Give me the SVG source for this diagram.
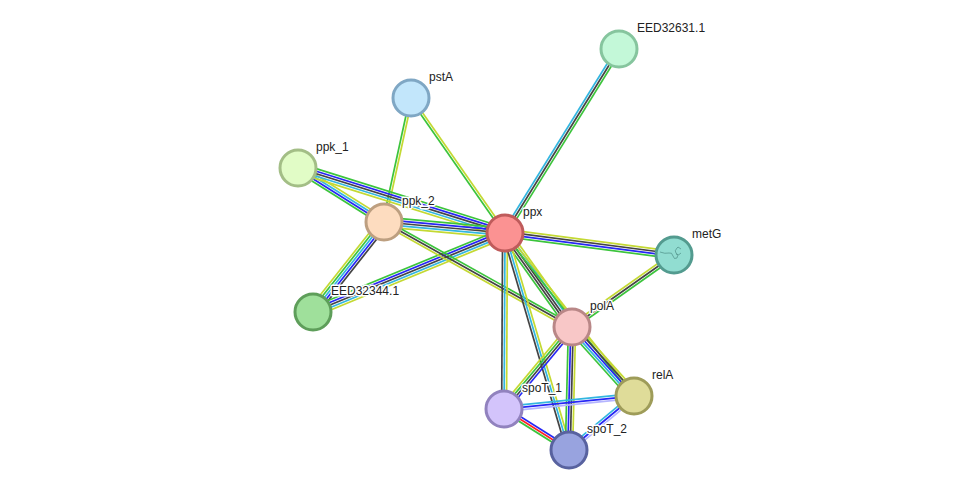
<svg xmlns="http://www.w3.org/2000/svg" width="976" height="495" viewBox="0 0 976 495">
<style>
line{stroke-width:1.55;fill:none}
.G{stroke:#3cc43c}.Y{stroke:#c4d933}.K{stroke:#444}.B{stroke:#2626f5}.C{stroke:#33b6e0}.R{stroke:#f22}.L{stroke:#b4b4ff}
.n{stroke-width:3}
text{font-family:"Liberation Sans",Arial,sans-serif;font-size:12px;fill:#222;stroke:#fff;stroke-width:3;stroke-linejoin:round;paint-order:stroke}
</style>
<rect width="976" height="495" fill="#fff"/>
<g id="connectors">
<g transform="translate(505 233) rotate(-58.2) scale(1 1.1)"><line class="C" x2="216.5" y1="-2.2" y2="-2.2"/><line class="K" x2="216.5"/><line class="G" x2="216.5" y1="2.2" y2="2.2"/></g>
<g transform="translate(505 233) rotate(-124.9) scale(1 1.1)"><line class="G" x2="164.5" y1="-1.1" y2="-1.1"/><line class="Y" x2="164.5" y1="1.1" y2="1.1"/></g>
<g transform="translate(384 222) rotate(-77.7) scale(1 1.1)"><line class="G" x2="126.9" y1="-1.1" y2="-1.1"/><line class="Y" x2="126.9" y1="1.1" y2="1.1"/></g>
<g transform="translate(298 168) rotate(32.1) scale(1 1.1)"><line class="Y" x2="101.5" y1="-3.3" y2="-3.3"/><line class="C" x2="101.5" y1="-1.1" y2="-1.1"/><line class="B" x2="101.5" y1="1.1" y2="1.1"/><line class="G" x2="101.5" y1="3.3" y2="3.3"/></g>
<g transform="translate(298 168) rotate(17.4) scale(1 1.1)"><line class="G" x2="217" y1="-4.4" y2="-4.4"/><line class="B" x2="217" y1="-2.2" y2="-2.2"/><line class="K" x2="217"/><line class="C" x2="217" y1="2.2" y2="2.2"/><line class="Y" x2="217" y1="4.4" y2="4.4"/></g>
<g transform="translate(384 222) rotate(5.2) scale(1 1.1)"><line class="G" x2="121.5" y1="-4.4" y2="-4.4"/><line class="B" x2="121.5" y1="-2.2" y2="-2.2"/><line class="K" x2="121.5"/><line class="C" x2="121.5" y1="2.2" y2="2.2"/><line class="Y" x2="121.5" y1="4.4" y2="4.4"/></g>
<g transform="translate(313 312) rotate(-51.7) scale(1 1.1)"><line class="Y" x2="114.6" y1="-4.4" y2="-4.4"/><line class="G" x2="114.6" y1="-2.2" y2="-2.2"/><line class="C" x2="114.6"/><line class="B" x2="114.6" y1="2.2" y2="2.2"/><line class="K" x2="114.6" y1="4.4" y2="4.4"/></g>
<g transform="translate(313 312) rotate(-22.4) scale(1 1.1)"><line class="G" x2="207.6" y1="-4.4" y2="-4.4"/><line class="B" x2="207.6" y1="-2.2" y2="-2.2"/><line class="K" x2="207.6"/><line class="C" x2="207.6" y1="2.2" y2="2.2"/><line class="Y" x2="207.6" y1="4.4" y2="4.4"/></g>
<g transform="translate(384 222) rotate(29.2) scale(1 1.1)"><line class="G" x2="215.3" y1="-2.2" y2="-2.2"/><line class="K" x2="215.3"/><line class="Y" x2="215.3" y1="2.2" y2="2.2"/></g>
<g transform="translate(505 233) rotate(7.4) scale(1 1.1)"><line class="Y" x2="170.4" y1="-3.3" y2="-3.3"/><line class="K" x2="170.4" y1="-1.1" y2="-1.1"/><line class="B" x2="170.4" y1="1.1" y2="1.1"/><line class="G" x2="170.4" y1="3.3" y2="3.3"/></g>
<g transform="translate(572 327) rotate(-35.2) scale(1 1.1)"><line class="Y" x2="124.9" y1="-2.2" y2="-2.2"/><line class="K" x2="124.9"/><line class="G" x2="124.9" y1="2.2" y2="2.2"/></g>
<g transform="translate(505 233) rotate(54.5) scale(1 1.1)"><line class="Y" x2="115.4" y1="-4.4" y2="-4.4"/><line class="C" x2="115.4" y1="-2.2" y2="-2.2"/><line class="K" x2="115.4"/><line class="K" x2="115.4" y1="2.2" y2="2.2"/><line class="G" x2="115.4" y1="4.4" y2="4.4"/></g>
<g transform="translate(505 233) rotate(90.3) scale(1 1.1)"><line class="Y" x2="176" y1="-2.2" y2="-2.2"/><line class="C" x2="176"/><line class="K" x2="176" y1="2.2" y2="2.2"/></g>
<g transform="translate(505 233) rotate(73.6) scale(1 1.1)"><line class="Y" x2="226.2" y1="-2.2" y2="-2.2"/><line class="C" x2="226.2"/><line class="K" x2="226.2" y1="2.2" y2="2.2"/></g>
<g transform="translate(505 233) rotate(51.6) scale(1 1.1)"><line class="Y" x2="207.9" y1="-1.1" y2="-1.1"/><line class="G" x2="207.9" y1="1.1" y2="1.1"/></g>
<g transform="translate(572 327) rotate(129.7) scale(1 1.1)"><line class="B" x2="106.5" y1="-3.3" y2="-3.3"/><line class="K" x2="106.5" y1="-1.1" y2="-1.1"/><line class="G" x2="106.5" y1="1.1" y2="1.1"/><line class="Y" x2="106.5" y1="3.3" y2="3.3"/></g>
<g transform="translate(572 327) rotate(91.4) scale(1 1.1)"><line class="Y" x2="123" y1="-3.3" y2="-3.3"/><line class="K" x2="123" y1="-1.1" y2="-1.1"/><line class="B" x2="123" y1="1.1" y2="1.1"/><line class="G" x2="123" y1="3.3" y2="3.3"/></g>
<g transform="translate(572 327) rotate(48.1) scale(1 1.1)"><line class="Y" x2="92.8" y1="-4.4" y2="-4.4"/><line class="K" x2="92.8" y1="-2.2" y2="-2.2"/><line class="B" x2="92.8"/><line class="C" x2="92.8" y1="2.2" y2="2.2"/><line class="G" x2="92.8" y1="4.4" y2="4.4"/></g>
<g transform="translate(504 409) rotate(-5.7) scale(1 1.1)"><line class="C" x2="130.6" y1="-2.2" y2="-2.2"/><line class="B" x2="130.6"/><line class="L" x2="130.6" y1="2.2" y2="2.2"/></g>
<g transform="translate(504 409) rotate(32.2) scale(1 1.1)"><line class="B" x2="76.9" y1="-2.2" y2="-2.2"/><line class="R" x2="76.9"/><line class="G" x2="76.9" y1="2.2" y2="2.2"/></g>
<g transform="translate(569 450) rotate(-39.7) scale(1 1.1)"><line class="C" x2="84.5" y1="-2.2" y2="-2.2"/><line class="B" x2="84.5"/><line class="L" x2="84.5" y1="2.2" y2="2.2"/></g>
</g>
<g id="EED32631.1"><circle class="n" cx="619" cy="49" r="18" fill="#c3f8d8" stroke="#86c59e"/><text x="637" y="32">EED32631.1</text></g>
<g id="pstA"><circle class="n" cx="411" cy="98" r="18" fill="#c2e6fb" stroke="#7fa7c4"/><text x="429" y="81">pstA</text></g>
<g id="ppk_1"><circle class="n" cx="298" cy="168" r="18" fill="#e1fcc6" stroke="#a3be86"/><text x="316" y="151">ppk_1</text></g>
<g id="ppk_2"><circle class="n" cx="384" cy="222" r="18" fill="#fddcbf" stroke="#bd9f80"/><text x="402" y="205">ppk_2</text></g>
<g id="ppx"><circle class="n" cx="505" cy="233" r="18" fill="#fb9292" stroke="#bf5b5b"/><text x="523" y="216">ppx</text></g>
<g id="metG"><circle class="n" cx="674" cy="255" r="18" fill="#91ddd1" stroke="#539b8f"/><path d="M660 252 q5 2 9 1 q3 -1 4 3 q1 4 4 2 q2 -3 -1 -5 q-2 -2 1 -5 l1 -1 m0 0 l3 2 m-5 5 q3 2 5 -1" fill="none" stroke="#4d8f86" stroke-width="0.7"/><text x="692" y="238">metG</text></g>
<g id="EED32344.1"><circle class="n" cx="313" cy="312" r="18" fill="#9fe09b" stroke="#5e9e5a"/><text x="331" y="295">EED32344.1</text></g>
<g id="polA"><circle class="n" cx="572" cy="327" r="18" fill="#f8c7c7" stroke="#b98787"/><text x="590" y="310">polA</text></g>
<g id="relA"><circle class="n" cx="634" cy="396" r="18" fill="#dfdc99" stroke="#9e9c59"/><text x="652" y="379">relA</text></g>
<g id="spoT_1"><circle class="n" cx="504" cy="409" r="18" fill="#d3c4fb" stroke="#9182be"/><text x="522" y="392">spoT_1</text></g>
<g id="spoT_2"><circle class="n" cx="569" cy="450" r="18" fill="#98a3df" stroke="#58629f"/><text x="587" y="433">spoT_2</text></g>
</svg>
